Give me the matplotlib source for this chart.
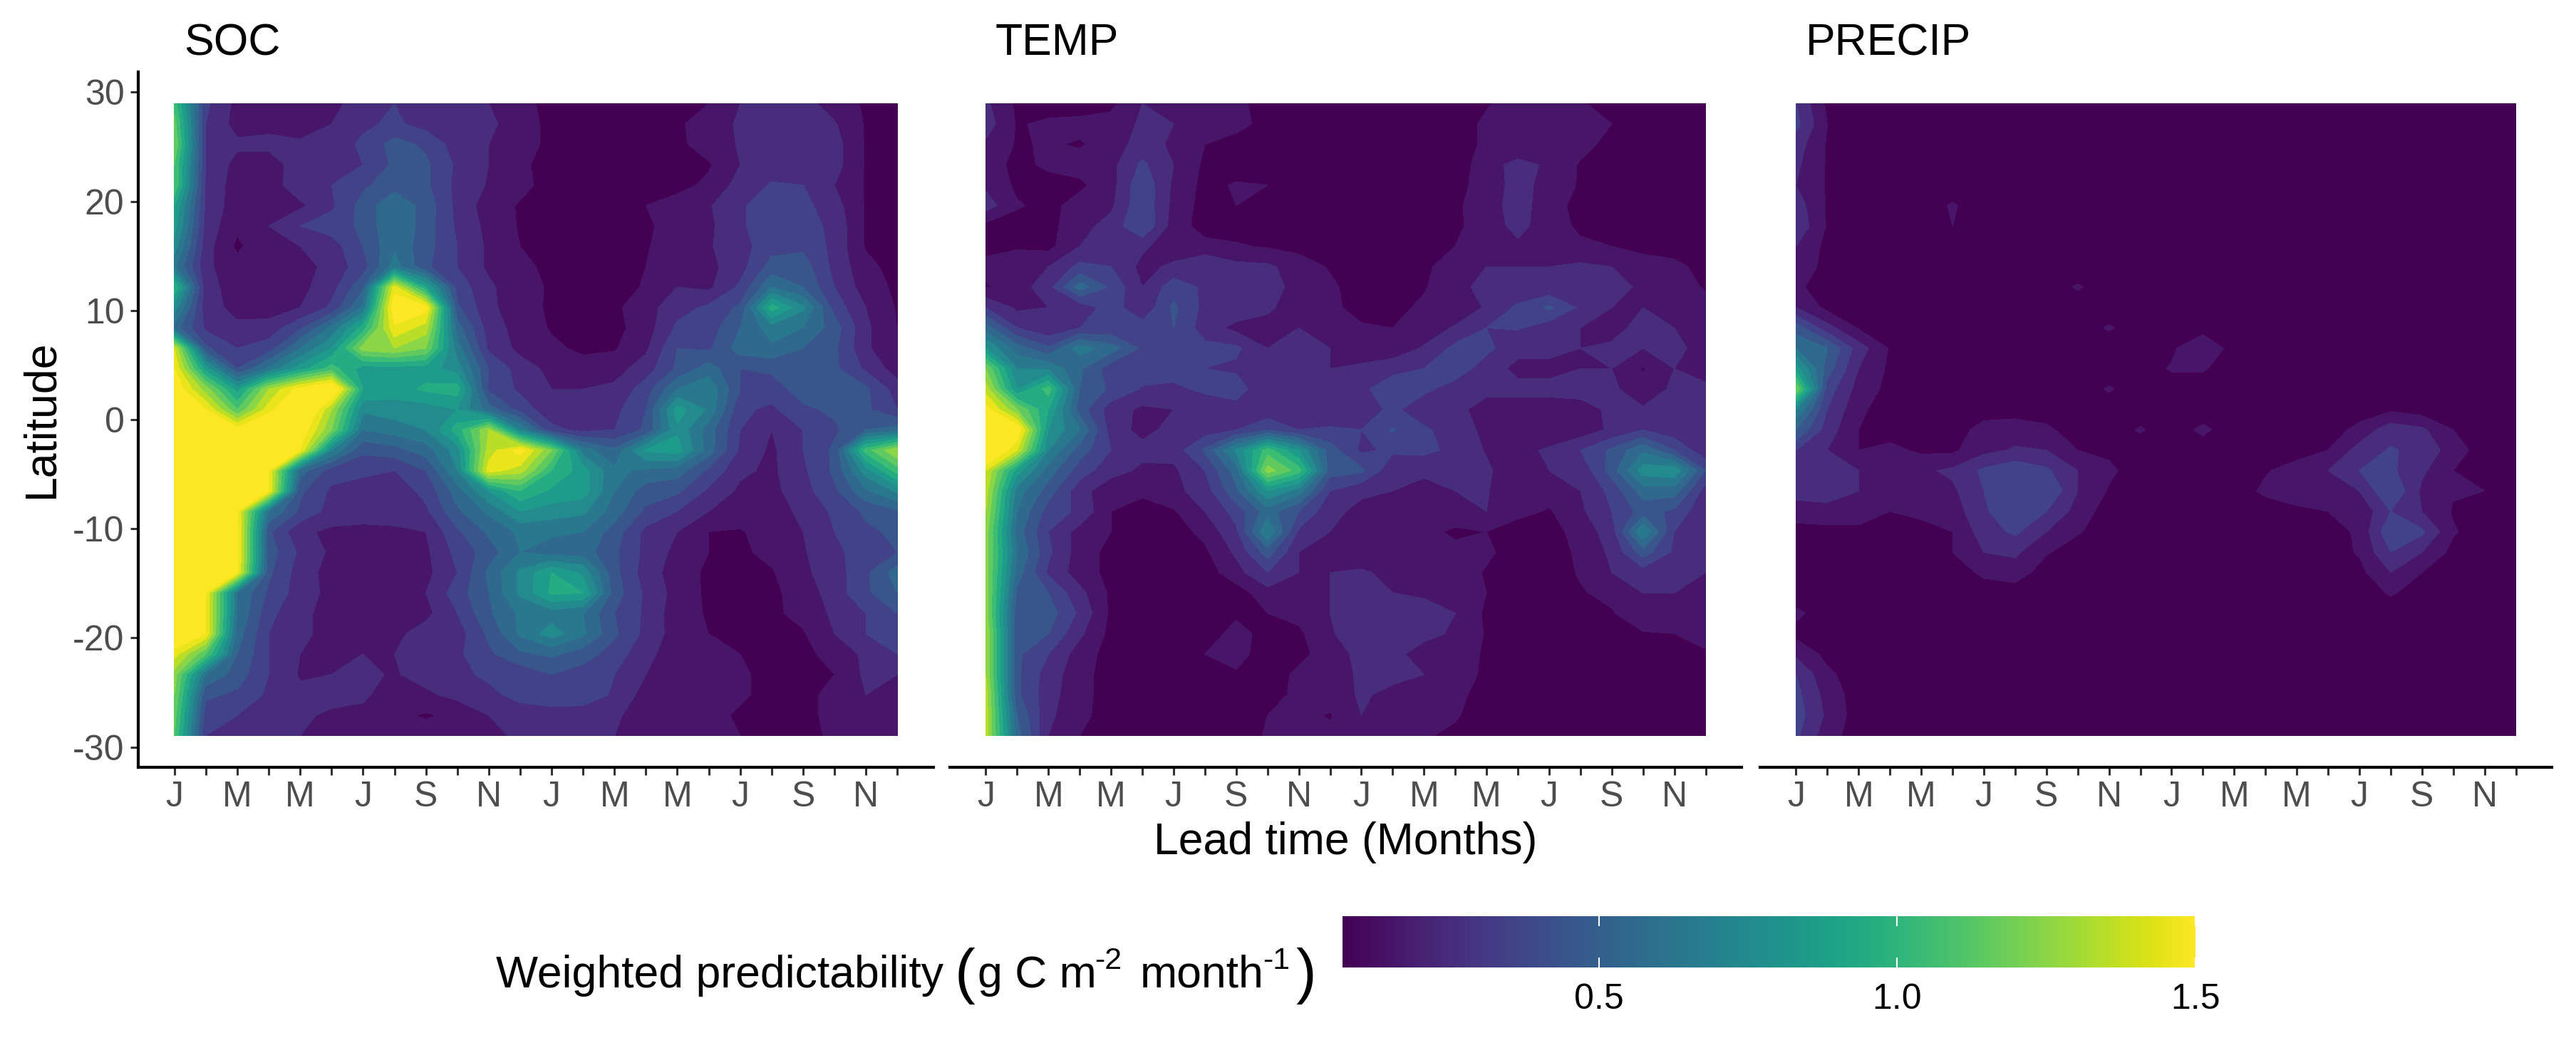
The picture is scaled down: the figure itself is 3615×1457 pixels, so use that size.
import numpy as np
import matplotlib
matplotlib.use('Agg')
import matplotlib.pyplot as plt

plt.rcParams['font.family'] = ['Liberation Sans', 'DejaVu Sans']
plt.rcParams['axes.unicode_minus'] = False

W, H = 3616, 1457

month_labels = ['J', 'M', 'M', 'J', 'S', 'N', 'J', 'M', 'M', 'J', 'S', 'N']
lead_months = np.arange(24)
lat = np.linspace(28.95, -28.95, 32)
panel_titles = ['SOC', 'TEMP', 'PRECIP']
lat_ticks = [30, 20, 10, 0, -10, -20, -30]
bar_ticks = [0.5, 1.0, 1.5]

# values, in hundredths of g C m-2 month-1, north to south
soc = np.array([
    [105,32,17,15,14,17,25,30,25,22,20,14,6,5,5,5,5,10,20,25,25,14,9,5],
    [115,30,16,18,14,20,28,32,26,26,22,15,7,5,5,6,9,13,22,25,25,21,9,6],
    [120,30,22,22,22,24,32,44,38,25,20,15,7,5,5,6,8,14,21,25,27,24,9,7],
    [110,30,16,16,24,20,30,42,42,28,20,12,6,5,5,6,6,9,20,25,26,24,9,5],
    [110,28,15,15,26,30,38,46,42,27,19,13,6,5,5,5,7,12,24,31,30,20,9,5],
    [90,28,14,13,18,28,44,58,46,27,15,9,5,5,5,10,14,19,28,38,33,24,9,5],
    [85,26,12,20,30,35,42,60,45,28,17,9,5,5,5,8,15,18,28,38,35,27,9,5],
    [75,24,8,18,20,25,40,58,44,30,18,10,6,5,5,9,16,19,26,36,38,27,9,5],
    [62,22,14,15,15,24,35,65,42,30,18,11,9,5,5,10,17,17,26,44,45,27,13,6],
    [100,24,15,14,17,26,48,145,90,36,22,13,9,6,6,11,20,18,32,60,50,30,15,8],
    [75,24,17,15,20,32,62,160,155,42,22,15,8,5,8,16,26,32,42,95,72,36,20,9],
    [55,28,22,24,38,62,95,148,135,55,25,16,9,6,7,15,32,35,50,65,60,45,22,10],
    [140,42,30,35,60,80,125,130,120,65,28,17,12,8,9,18,40,38,55,58,50,42,22,10],
    [150,85,40,62,85,105,85,85,85,75,40,25,17,14,16,25,42,55,40,42,43,42,28,15],
    [160,125,85,130,155,170,90,85,92,95,38,28,20,20,22,35,60,68,40,35,45,50,42,25],
    [175,150,110,145,175,130,72,75,75,80,55,36,23,22,27,40,85,68,32,28,38,42,42,30],
    [180,175,155,170,160,120,60,65,70,95,130,70,33,27,30,42,78,55,30,20,30,38,50,55],
    [180,175,170,170,150,70,42,46,55,75,135,155,120,65,52,82,85,55,28,18,30,42,105,130],
    [180,175,170,150,55,35,33,30,40,70,145,135,100,85,62,58,55,38,22,18,28,42,75,105],
    [180,175,170,150,42,28,24,24,33,55,80,100,88,85,60,45,42,28,18,17,26,38,58,72],
    [180,175,150,60,38,26,25,25,28,48,62,80,75,72,55,38,30,20,16,16,22,32,42,48],
    [180,170,155,42,22,18,17,18,20,38,52,62,62,60,45,27,20,10,9,15,20,30,38,42],
    [180,170,155,45,28,18,16,16,18,33,45,60,55,55,42,27,17,10,8,13,19,27,36,40],
    [170,160,150,42,25,16,15,15,17,30,52,72,90,78,43,25,15,8,6,9,18,25,38,55],
    [165,150,60,38,25,17,15,16,20,35,50,72,92,90,45,28,16,8,6,8,14,25,38,50],
    [165,150,60,33,22,17,15,15,17,30,48,62,65,60,40,28,14,9,6,8,13,22,30,40],
    [165,150,55,30,22,17,15,17,25,25,42,62,75,62,42,27,15,10,7,8,9,20,30,35],
    [145,110,50,30,20,18,20,20,27,28,38,48,52,45,35,23,14,11,10,7,7,14,22,30],
    [125,60,45,30,19,20,22,19,24,26,33,33,40,35,30,20,14,12,11,8,8,10,22,20],
    [120,42,38,28,22,24,22,14,18,23,26,35,38,38,28,16,12,12,11,8,6,14,20,18],
    [115,35,30,24,22,18,17,12,9,12,20,22,24,23,22,14,12,12,9,6,6,14,20,17],
    [110,30,24,22,20,17,16,12,14,14,17,22,22,22,20,14,12,13,10,5,5,13,16,14],
]) / 100

temp = np.array([
    [22,8,5,5,8,20,20,10,13,5,5,5,5,5,5,7,9,15,15,11,6,5,5,5],
    [25,9,12,13,13,22,20,11,14,6,5,5,5,5,5,5,12,15,15,13,10,5,5,5],
    [18,9,11,9,14,25,18,10,5,5,5,5,5,5,5,5,12,10,15,13,7,5,5,5],
    [15,7,12,14,17,32,20,8,5,5,5,5,5,5,5,5,15,24,18,9,5,5,5,5],
    [18,8,6,8,16,38,18,7,11,10,5,5,5,5,5,7,14,24,16,9,5,5,5,5],
    [25,11,7,14,18,38,17,6,10,10,5,5,5,5,5,8,16,24,15,6,5,5,5,5],
    [7,6,7,16,24,40,15,6,6,7,5,5,5,5,5,8,15,23,15,8,5,5,5,5],
    [8,9,7,20,30,22,14,13,11,9,7,5,5,5,5,10,15,18,12,12,10,7,5,5],
    [12,15,20,33,30,17,22,30,23,22,15,9,5,5,8,15,20,20,20,22,20,15,13,6],
    [9,15,26,55,38,20,36,28,28,26,15,12,5,5,9,18,22,22,22,22,22,19,15,9],
    [30,18,20,23,35,22,42,27,27,21,17,12,7,7,12,14,21,32,42,28,20,20,20,14],
    [55,30,22,30,32,35,40,25,17,18,20,12,11,10,15,21,30,31,24,20,18,22,20,17],
    [80,55,42,65,55,38,40,33,32,20,21,20,14,14,21,33,33,22,22,20,21,20,22,17],
    [120,70,68,52,34,35,36,30,28,22,22,20,22,26,30,37,24,18,18,20,20,9,20,16],
    [135,80,105,50,38,29,27,33,36,20,21,21,27,38,33,24,22,22,22,22,22,14,22,22],
    [155,120,90,45,25,18,20,20,25,22,21,20,23,33,22,22,17,17,17,18,21,21,21,21],
    [180,160,80,60,25,17,23,25,30,40,30,32,30,41,32,24,18,15,15,14,22,30,23,22],
    [175,140,70,45,30,23,24,42,72,105,80,45,28,32,32,28,19,18,21,30,42,58,40,22],
    [140,85,55,35,24,18,18,30,55,125,105,45,42,22,24,24,22,12,20,22,45,75,78,40],
    [135,65,45,24,13,11,17,25,48,80,65,30,22,20,13,20,21,10,14,20,33,55,55,25],
    [130,60,35,28,10,8,9,20,34,55,40,23,17,10,14,17,20,13,9,18,30,44,38,21],
    [125,55,30,16,10,5,5,13,28,70,28,20,12,15,13,8,10,5,6,14,25,70,30,20],
    [125,60,32,15,7,5,5,8,22,45,20,20,15,12,13,13,12,5,5,12,22,45,28,20],
    [125,55,28,15,7,5,5,5,16,30,20,20,21,18,15,15,9,5,5,11,20,25,24,20],
    [125,48,40,23,8,5,5,5,5,16,18,20,27,20,17,20,10,5,5,9,13,20,20,20],
    [125,42,45,28,8,5,5,5,9,10,13,20,27,30,28,20,8,5,5,5,9,18,14,15],
    [130,42,40,22,7,5,5,7,12,8,8,19,25,30,22,19,9,5,5,5,7,9,10,13],
    [130,42,30,15,6,5,5,10,13,6,7,15,23,22,17,17,8,5,5,5,5,5,5,9],
    [130,42,25,14,5,5,5,8,9,5,12,14,22,22,20,15,8,5,5,5,5,5,5,5],
    [135,42,24,13,6,5,5,5,5,5,13,16,21,18,13,12,7,5,5,5,5,5,5,5],
    [135,50,22,13,5,5,5,5,5,10,13,9,20,18,14,11,5,5,5,5,5,5,5,5],
    [135,55,20,10,5,5,5,5,5,11,12,13,20,14,11,8,5,5,5,5,5,5,5,5],
]) / 100

precip = np.array([
    [30,8,5,5,5,5,5,5,5,5,5,5,5,5,5,5,5,5,5,5,5,5,5,5],
    [33,10,5,5,5,5,5,5,5,5,5,5,5,5,5,5,5,5,5,5,5,5,5,5],
    [25,9,5,5,5,5,5,5,5,5,5,5,5,5,5,5,5,5,5,5,5,5,5,5],
    [22,9,5,5,5,5,5,5,5,5,5,5,5,5,5,5,5,5,5,5,5,5,5,5],
    [20,9,5,5,5,5,5,5,5,5,5,5,5,5,5,5,5,5,5,5,5,5,5,5],
    [25,9,5,5,5,11,5,5,5,5,5,5,5,5,5,5,5,5,5,5,5,5,5,5],
    [28,9,5,5,5,10,5,5,5,5,5,5,5,5,5,5,5,5,5,5,5,5,5,5],
    [20,7,5,5,5,5,5,5,5,5,5,5,5,5,5,5,5,5,5,5,5,5,5,5],
    [18,6,5,5,5,5,5,5,5,5,5,5,5,5,5,5,5,5,5,5,5,5,5,5],
    [12,5,5,5,5,5,5,5,5,11,5,5,5,5,5,5,5,5,5,5,5,5,5,5],
    [20,7,5,5,5,5,5,5,5,5,5,5,5,5,5,5,5,5,5,5,5,5,5,5],
    [45,24,9,5,5,5,5,5,5,5,11,5,5,5,5,5,5,5,5,5,5,5,5,5],
    [60,50,25,9,5,5,5,5,5,5,5,5,8,20,5,5,5,5,5,5,5,5,5,5],
    [85,45,20,8,5,5,5,5,5,5,5,5,11,11,5,5,5,5,5,5,5,5,5,5],
    [120,35,16,7,5,5,5,5,5,5,11,5,5,5,5,5,5,5,5,5,5,5,5,5],
    [70,30,12,5,5,5,5,5,5,5,5,5,5,5,5,5,5,5,5,8,5,5,5,5],
    [50,25,10,5,5,5,14,16,12,5,5,11,5,12,5,5,5,5,13,26,22,10,5,5],
    [30,20,10,13,8,8,17,21,20,10,8,5,5,5,5,5,5,10,24,31,27,15,5,5],
    [25,25,20,15,18,22,32,38,32,20,12,5,5,5,5,9,15,20,30,32,22,10,5,5],
    [25,28,20,16,15,18,30,40,40,20,9,5,5,5,5,12,15,16,20,40,18,11,10,5],
    [14,14,14,10,12,15,28,40,30,16,5,5,5,5,5,5,8,10,12,30,20,9,5,5],
    [7,8,8,9,7,10,25,32,20,11,5,5,5,5,5,5,5,5,12,38,32,11,5,5],
    [5,5,5,5,5,10,20,22,11,5,5,5,5,5,5,5,5,5,11,30,20,7,5,5],
    [5,5,5,5,5,5,12,15,5,5,5,5,5,5,5,5,5,5,7,20,10,5,5,5],
    [5,5,5,5,5,5,5,5,5,5,5,5,5,5,5,5,5,5,5,11,6,5,5,5],
    [12,5,5,5,5,5,5,5,5,5,5,5,5,5,5,5,5,5,5,5,5,5,5,5],
    [7,5,5,5,5,5,5,5,5,5,5,5,5,5,5,5,5,5,5,5,5,5,5,5],
    [18,7,5,5,5,5,5,5,5,5,5,5,5,5,5,5,5,5,5,5,5,5,5,5],
    [30,12,5,5,5,5,5,5,5,5,5,5,5,5,5,5,5,5,5,5,5,5,5,5],
    [33,16,5,5,5,5,5,5,5,5,5,5,5,5,5,5,5,5,5,5,5,5,5,5],
    [35,18,5,5,5,5,5,5,5,5,5,5,5,5,5,5,5,5,5,5,5,5,5,5],
    [32,14,5,5,5,5,5,5,5,5,5,5,5,5,5,5,5,5,5,5,5,5,5,5],
]) / 100

vmin, vmax = 0.07, 1.5
levels = np.arange(0.1, 1.55, 0.1)


def add_axes_px(left, top, right, bottom):
    return fig.add_axes([left / W, 1 - bottom / H, (right - left) / W, (bottom - top) / H])


def text_px(x, y, s, **kw):
    return fig.text(x / W, 1 - y / H, s, **kw)


fig = plt.figure(figsize=(W / 100, H / 100), dpi=100)

axes_px = [(194, 1310), (1333, 2444), (2470, 3581)]
fields = [soc, temp, precip]
for i, (x0, x1) in enumerate(axes_px):
    ax = add_axes_px(x0, 101, x1, 1077)
    ax.contourf(lead_months, lat, fields[i], levels=levels, cmap='viridis',
                vmin=vmin, vmax=vmax, extend='both')
    ax.set_xlim(-1.15, 24.15)
    ax.set_ylim(-31.85, 31.85)
    for side in ['top', 'right']:
        ax.spines[side].set_visible(False)
    ax.spines['bottom'].set_linewidth(3)
    ax.spines['left'].set_linewidth(3)
    ax.set_xticks(lead_months)
    ax.set_xticklabels([month_labels[j // 2] if j % 2 == 0 else '' for j in lead_months])
    ax.tick_params(axis='x', length=8, width=2.2, color='#333333', labelcolor='#4d4d4d',
                   labelsize=36, pad=6)
    if i == 0:
        ax.set_yticks(lat_ticks)
        ax.tick_params(axis='y', length=8, width=2.2, color='#333333', labelcolor='#4d4d4d',
                       labelsize=36, pad=6)
    else:
        ax.spines['left'].set_visible(False)
        ax.set_yticks([])
    ax.text(64 / (x1 - x0), 1.011, panel_titles[i], transform=ax.transAxes,
            fontsize=45, color='black', va='bottom', ha='left')

text_px(58, 588, 'Latitude', fontsize=45, rotation=90, ha='center', va='center')
text_px(1888, 1183, 'Lead time (Months)', fontsize=45, ha='center', va='center')

# colour bar
cax = add_axes_px(1884, 1286, 3081, 1358)
gradient = np.linspace(vmin, vmax, 512).reshape(1, -1)
cax.imshow(gradient, aspect='auto', cmap='viridis', vmin=vmin, vmax=vmax,
           extent=[vmin, vmax, 0, 1], interpolation='bilinear')
cax.vlines(bar_ticks, 0, 0.2, color='white', lw=1.5)
cax.vlines(bar_ticks, 0.8, 1, color='white', lw=1.5)
cax.set_xlim(vmin, vmax)
cax.set_ylim(0, 1)
cax.set_yticks([])
cax.set_xticks(bar_ticks)
cax.set_xticklabels(['0.5', '1.0', '1.5'])
cax.tick_params(axis='x', length=0, labelsize=36, labelcolor='black', pad=16)
for side in cax.spines:
    cax.spines[side].set_visible(False)

# legend title in pieces because of the tall brackets
base = 1386
text_px(696, base, 'Weighted predictability', fontsize=45, va='baseline')
text_px(1340, base + 6, '(', fontsize=62, va='baseline')
text_px(1372, base, 'g C m', fontsize=45, va='baseline')
text_px(1536, base - 26, '-2', fontsize=31, va='baseline')
text_px(1600, base, 'month', fontsize=45, va='baseline')
text_px(1772, base - 26, '-1', fontsize=31, va='baseline')
text_px(1818, base + 6, ')', fontsize=62, va='baseline')

fig.savefig('out.png', dpi=100, facecolor='white')
